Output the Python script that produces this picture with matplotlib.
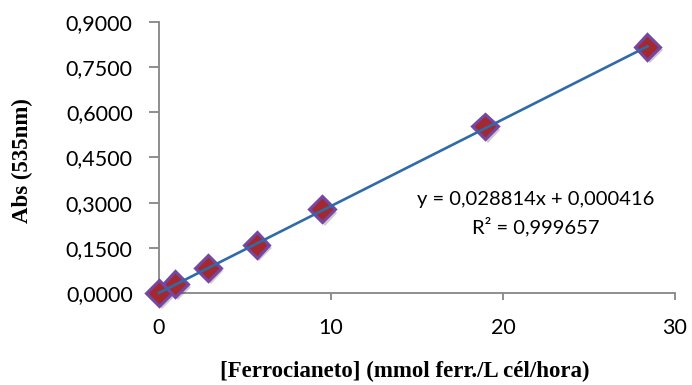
import matplotlib
matplotlib.use("Agg")
import matplotlib.pyplot as plt
import matplotlib.patheffects as pe
import numpy as np

# data
ferro = [0.0, 0.95, 2.84, 5.68, 9.47, 18.94, 28.4]
abs535 = [0.0, 0.030, 0.083, 0.160, 0.278, 0.553, 0.817]
slope = 0.028814
intercept = 0.000416
r2 = 0.999657

xticks = [0, 10, 20, 30]
yticks = [0, 0.15, 0.30, 0.45, 0.60, 0.75, 0.90]

fig = plt.figure(figsize=(6.92, 3.85), dpi=100)
ax = fig.add_axes([0.2298, 0.239, 0.7456, 0.704])

ax.plot(ferro, abs535, 'D', ms=13, mfc='#A3292F', mec='#7347A3', mew=2.2,
        zorder=3, clip_on=False,
        path_effects=[pe.SimplePatchShadow(offset=(2, -2.5), alpha=0.22), pe.Normal()])

# trend line, drawn over the markers
xl = np.array([0, max(ferro)])
ax.plot(xl, slope * xl + intercept, color='#2F6BA8', lw=1.9, zorder=4, clip_on=False)

ax.set_xlim(0, 30)
ax.set_ylim(0, 0.9)
ax.set_xticks(xticks)
ax.set_yticks(yticks)
ax.set_yticklabels([('%.4f' % v).replace('.', ',') for v in yticks])
ax.set_xticklabels([str(v) for v in xticks])

for s in ['top', 'right']:
    ax.spines[s].set_visible(False)
for s in ['left', 'bottom']:
    ax.spines[s].set_color('#868686')
    ax.spines[s].set_linewidth(1.3)
ax.tick_params(axis='y', length=7, width=1.3, color='#868686', pad=12)
ax.tick_params(axis='x', length=5, width=1.3, color='#868686', pad=13)
for lab in ax.get_xticklabels() + ax.get_yticklabels():
    lab.set_fontfamily('Lato')
    lab.set_fontsize(15.5)
    lab.set_color('black')

ax.set_xlabel('[Ferrocianeto] (mmol ferr./L cél/hora)', fontfamily='Liberation Serif',
              fontweight='bold', fontsize=16.5, va='center', ha='center')
ax.xaxis.set_label_coords(0.477, -0.288)
ax.set_ylabel('Abs (535nm)', fontfamily='Liberation Serif', fontweight='bold',
              fontsize=16.5, va='center', ha='center')
ax.yaxis.set_label_coords(-0.264, 0.487)

eq = 'y = ' + ('%.6f' % slope).replace('.', ',') + 'x + ' + ('%.6f' % intercept).replace('.', ',')
ax.text(21.9, 0.31, eq, ha='center', va='center', fontfamily='Lato', fontsize=14.5)
ax.text(21.9, 0.222, 'R² = ' + ('%.6f' % r2).replace('.', ','), ha='center', va='center',
        fontfamily='Lato', fontsize=14.5)

fig.savefig('out.png', dpi=100)
